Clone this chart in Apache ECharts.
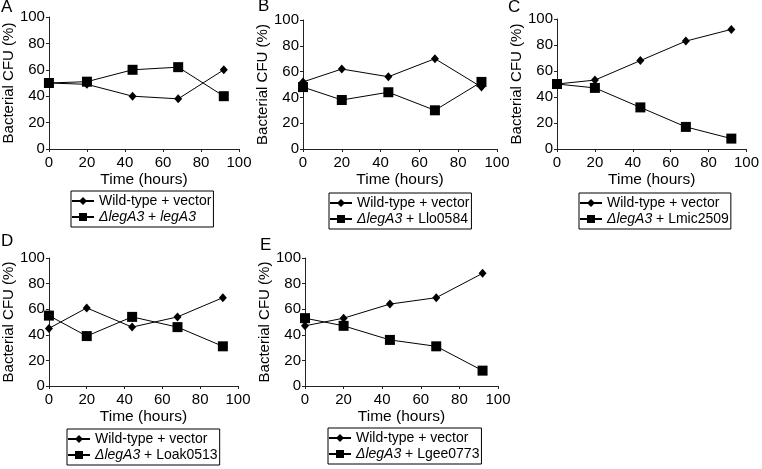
<!DOCTYPE html>
<html>
<head>
<meta charset="utf-8">
<script src="https://cdn.jsdelivr.net/npm/echarts@6/dist/echarts.min.js"></script>
<style>
html,body{margin:0;padding:0;background:#fff;}
#chart{width:762px;height:469px;}
</style>
</head>
<body>
<div id="chart"></div>
<script>
const hours = [0, 20, 44, 68, 92];
const panelLetters = ['A', 'B', 'C', 'D', 'E'];
const wtName = 'Wild-type + vector';
const mutantNames = ['ΔlegA3 + legA3', 'ΔlegA3 + Llo0584', 'ΔlegA3 + Lmic2509', 'ΔlegA3 + Loak0513', 'ΔlegA3 + Lgee0773'];
const wtA = [50, 49, 40, 38, 60];
const mutA = [50, 51, 60, 62, 40];
const wtB = [52, 62, 56, 70, 48];
const mutB = [48, 38, 44, 30, 52];
const wtC = [50, 53, 68, 83, 92];
const mutC = [50, 47, 32, 17, 8];
const wtD = [45, 61, 46, 54, 69];
const mutD = [55, 39, 54, 46, 31];
const wtE = [47, 53, 64, 69, 88];
const mutE = [53, 47, 36, 31, 12];
const xTicks = [0, 20, 40, 60, 80, 100];
const yTicks = [0, 20, 40, 60, 80, 100];
const xTitle = 'Time (hours)';
const yTitle = 'Bacterial CFU (%)';

const wtSets = [wtA, wtB, wtC, wtD, wtE];
const mutSets = [mutA, mutB, mutC, mutD, mutE];

// layout (pixels)
const grids = [
  {left: 44, top: 17, width: 195, height: 132},
  {left: 303, top: 20, width: 194, height: 129},
  {left: 557, top: 19, width: 194, height: 130},
  {left: 44, top: 258, width: 194, height: 128},
  {left: 305, top: 258, width: 193, height: 128}
];
const legendPos = [
  {left: 71, top: 191},
  {left: 329, top: 193},
  {left: 579, top: 193},
  {left: 67, top: 429},
  {left: 328, top: 428}
];
const letterPos = [[1, -1], [258, -2], [508, -1], [1, 233], [260, 237]];

const FONT = "'Liberation Sans', Arial, sans-serif";
const axisColor = '#222';

const xAxes = [], yAxes = [], series = [], legends = [], graphics = [];
grids.forEach((g, i) => {
  xAxes.push({
    type: 'value', gridIndex: i, min: xTicks[0], max: xTicks[xTicks.length - 1], interval: 20,
    name: xTitle, nameLocation: 'middle', nameGap: 23,
    nameTextStyle: {fontFamily: FONT, fontSize: 15.5, color: '#000'},
    axisLine: {show: true, lineStyle: {color: axisColor, width: 1}},
    axisTick: {show: true, length: 3, inside: false, lineStyle: {color: axisColor}},
    axisLabel: {fontFamily: FONT, fontSize: 15, color: '#000', margin: 6},
    splitLine: {show: false}
  });
  yAxes.push({
    type: 'value', gridIndex: i, min: yTicks[0], max: yTicks[yTicks.length - 1], interval: 20,
    name: yTitle, nameLocation: 'middle', nameGap: 29,
    nameTextStyle: {fontFamily: FONT, fontSize: 15, color: '#000'},
    axisLine: {show: true, lineStyle: {color: axisColor, width: 1}},
    axisTick: {show: true, length: 3, inside: false, lineStyle: {color: axisColor}},
    axisLabel: {fontFamily: FONT, fontSize: 15, color: '#000', margin: 4},
    splitLine: {show: false}
  });
  series.push({
    type: 'line', name: wtName, xAxisIndex: i, yAxisIndex: i,
    data: hours.map((h, k) => [h, wtSets[i][k]]),
    symbol: 'diamond', symbolSize: [8, 9],
    lineStyle: {color: '#000', width: 1},
    itemStyle: {color: '#000'},
    animation: false, z: 3
  });
  series.push({
    type: 'line', name: mutantNames[i], xAxisIndex: i, yAxisIndex: i,
    data: hours.map((h, k) => [h, mutSets[i][k]]),
    symbol: 'rect', symbolSize: 10,
    lineStyle: {color: '#000', width: 1},
    itemStyle: {color: '#000'},
    animation: false, z: 2
  });
  legends.push({
    data: [wtName, mutantNames[i]],
    orient: 'vertical',
    left: legendPos[i].left, top: legendPos[i].top,
    padding: [3, 2, 3, 0],
    itemGap: 2,
    itemWidth: 22, itemHeight: 10,
    borderColor: '#000', borderWidth: 1, backgroundColor: '#fff',
    selectedMode: false,
    textStyle: {fontFamily: FONT, fontSize: 14, color: '#000',
      rich: {i: {fontFamily: FONT, fontSize: 14, fontStyle: 'italic', color: '#000'}}},
    formatter: function (name) {
      if (name === wtName) return name;
      const rest = name.replace('ΔlegA3 + ', '');
      return '{i|ΔlegA3} + ' + (rest === 'legA3' ? '{i|legA3}' : rest);
    }
  });
  graphics.push({
    type: 'text', left: letterPos[i][0], top: letterPos[i][1],
    style: {text: panelLetters[i], fontFamily: FONT, fontSize: 17, fill: '#000'}
  });
});

const chart = echarts.init(document.getElementById('chart'), null, {renderer: 'canvas'});
chart.setOption({
  backgroundColor: '#fff',
  animation: false,
  grid: grids.map(g => Object.assign({containLabel: false}, g)),
  xAxis: xAxes,
  yAxis: yAxes,
  series: series,
  legend: legends,
  graphic: graphics
});
</script>
</body>
</html>
